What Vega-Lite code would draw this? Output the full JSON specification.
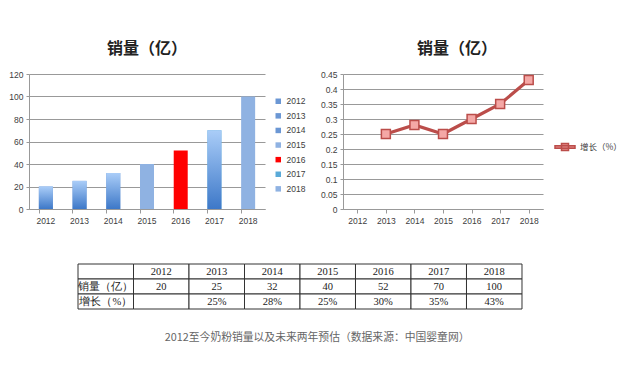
{
  "$schema": "https://vega.github.io/schema/vega-lite/v6.json",
  "background": "white",
  "padding": {"left": 8, "top": 41, "right": 5, "bottom": 5},
  "datasets": {
    "sales": [
      {"year": "2012", "sales": 20, "growth": null, "series": "增长（%）"},
      {"year": "2013", "sales": 25, "growth": 0.25, "series": "增长（%）"},
      {"year": "2014", "sales": 32, "growth": 0.28, "series": "增长（%）"},
      {"year": "2015", "sales": 40, "growth": 0.25, "series": "增长（%）"},
      {"year": "2016", "sales": 52, "growth": 0.30, "series": "增长（%）"},
      {"year": "2017", "sales": 70, "growth": 0.35, "series": "增长（%）"},
      {"year": "2018", "sales": 100, "growth": 0.43, "series": "增长（%）"}
    ],
    "table": [
      {"col": "h", "row": "r0", "text": ""},
      {"col": "2012", "row": "r0", "text": "2012"},
      {"col": "2013", "row": "r0", "text": "2013"},
      {"col": "2014", "row": "r0", "text": "2014"},
      {"col": "2015", "row": "r0", "text": "2015"},
      {"col": "2016", "row": "r0", "text": "2016"},
      {"col": "2017", "row": "r0", "text": "2017"},
      {"col": "2018", "row": "r0", "text": "2018"},
      {"col": "h", "row": "r1", "text": "销量（亿）"},
      {"col": "2012", "row": "r1", "text": "20"},
      {"col": "2013", "row": "r1", "text": "25"},
      {"col": "2014", "row": "r1", "text": "32"},
      {"col": "2015", "row": "r1", "text": "40"},
      {"col": "2016", "row": "r1", "text": "52"},
      {"col": "2017", "row": "r1", "text": "70"},
      {"col": "2018", "row": "r1", "text": "100"},
      {"col": "h", "row": "r2", "text": "增长（%）"},
      {"col": "2012", "row": "r2", "text": ""},
      {"col": "2013", "row": "r2", "text": "25%"},
      {"col": "2014", "row": "r2", "text": "28%"},
      {"col": "2015", "row": "r2", "text": "25%"},
      {"col": "2016", "row": "r2", "text": "30%"},
      {"col": "2017", "row": "r2", "text": "35%"},
      {"col": "2018", "row": "r2", "text": "43%"}
    ]
  },
  "title": {
    "text": "2012至今奶粉销量以及未来两年预估（数据来源：中国婴童网）",
    "orient": "bottom",
    "anchor": "start",
    "dx": 156,
    "fontSize": 10.8,
    "fontWeight": "normal",
    "color": "#666666",
    "font": "Noto Sans CJK SC",
    "offset": 22
  },
  "config": {
    "view": {"stroke": null},
    "font": "Noto Sans CJK SC",
    "axis": {
      "labelFont": "Liberation Sans",
      "labelFontSize": 8.5,
      "labelColor": "#404040",
      "domainColor": "#999999",
      "tickColor": "#999999",
      "gridColor": "#999999",
      "title": null
    },
    "title": {"fontSize": 16, "fontWeight": "bold", "color": "#222222", "font": "Noto Sans CJK SC"}
  },
  "spacing": 38,
  "vconcat": [
    {
      "hconcat": [
        {
          "width": 236,
          "height": 135,
          "title": {"text": "销量（亿）", "offset": 13, "anchor": "middle"},
          "data": {"name": "sales"},
          "encoding": {
            "x": {"field": "year", "type": "ordinal", "scale": {"paddingInner": 0.6, "paddingOuter": 0.3},
              "axis": {"labelAngle": 0, "bandPosition": 0, "tickSize": 4, "grid": false, "labelPadding": 3}},
            "y": {"field": "sales", "type": "quantitative", "scale": {"domain": [0, 120]},
              "axis": {"values": [0, 20, 40, 60, 80, 100, 120], "tickSize": 3, "grid": true, "labelPadding": 3}}
          },
          "layer": [
            {
              "mark": {"type": "bar", "width": 14},
              "encoding": {
                "color": {"field": "year", "type": "nominal",
                  "scale": {"domain": ["2012", "2013", "2014", "2015", "2016", "2017", "2018"],
                    "range": ["#6b97d4", "#6b97d4", "#6b97d4", "#8fb2e2", "#ff0000", "#5aaad8", "#8fb2e2"]},
                  "legend": {"title": null, "symbolType": "square", "symbolSize": 30, "symbolOpacity": 1, "symbolStrokeWidth": 0,
                    "labelFontSize": 8.5, "labelFont": "Liberation Sans", "labelColor": "#404040", "rowPadding": 5.6, "padding": 0,
                    "orient": "none", "legendX": 245, "legendY": 23}}
              }
            },
            {
              "transform": [{"filter": "datum.year != '2015' && datum.year != '2016' && datum.year != '2018'"}],
              "mark": {"type": "bar", "width": 14,
                "color": {"gradient": "linear", "x1": 0, "y1": 0, "x2": 0, "y2": 1,
                  "stops": [{"offset": 0, "color": "#aacdf8"}, {"offset": 1, "color": "#3d78c8"}]}}
            }
          ]
        },
        {
          "width": 200,
          "height": 135,
          "title": {"text": "销量（亿）", "offset": 13, "anchor": "middle", "dx": 14},
          "data": {"name": "sales"},
          "transform": [{"filter": "datum.growth != null"}],
          "encoding": {
            "x": {"field": "year", "type": "ordinal",
              "scale": {"domain": ["2012", "2013", "2014", "2015", "2016", "2017", "2018"], "paddingInner": 0, "paddingOuter": 0},
              "axis": {"labelAngle": 0, "bandPosition": 0, "tickSize": 4, "grid": false, "labelPadding": 3}},
            "y": {"field": "growth", "type": "quantitative", "scale": {"domain": [0, 0.45]},
              "axis": {"values": [0, 0.05, 0.1, 0.15, 0.2, 0.25, 0.3, 0.35, 0.4, 0.45], "format": "~g", "tickSize": 3, "grid": true, "labelPadding": 3}}
          },
          "layer": [
            {
              "mark": {"type": "line", "strokeWidth": 3.2},
              "encoding": {
                "stroke": {"field": "series", "type": "nominal", "scale": {"range": ["#bb4d4a"]},
                  "legend": {"title": null, "symbolType": "M-1,-0.12H1V0.12H-1Z M-0.35,-0.35H0.35V0.35H-0.35Z", "symbolSize": 400,
                    "symbolFillColor": "#e58a88", "symbolStrokeColor": "#bb4d4a", "symbolStrokeWidth": 1.5,
                    "labelFontSize": 8.5, "labelColor": "#404040", "padding": 0,
                    "orient": "none", "legendX": 211, "legendY": 62}}
              }
            },
            {
              "mark": {"type": "point", "shape": "square", "size": 80, "filled": true, "fill": "#f4a8a6", "stroke": "#bb4d4a", "strokeWidth": 1.5, "opacity": 1}
            }
          ]
        }
      ],
      "spacing": 14,
      "resolve": {"scale": {"color": "independent", "stroke": "independent"}, "legend": {"color": "independent", "stroke": "independent"}}
    },
    {
      "width": 542,
      "height": 45,
      "data": {"name": "table"},
      "encoding": {
        "x": {"field": "col", "type": "ordinal", "sort": ["h", "2012", "2013", "2014", "2015", "2016", "2017", "2018"],
          "scale": {"paddingInner": 0, "paddingOuter": 0.883}, "axis": null},
        "y": {"field": "row", "type": "ordinal", "scale": {"paddingInner": 0, "paddingOuter": 0}, "axis": null}
      },
      "layer": [
        {"mark": {"type": "rect", "fill": "white", "stroke": "#333333", "strokeWidth": 1}},
        {"mark": {"type": "text", "fontSize": 10.5, "font": "Liberation Serif", "color": "#222222"},
          "encoding": {"text": {"field": "text"}}}
      ]
    }
  ]
}
